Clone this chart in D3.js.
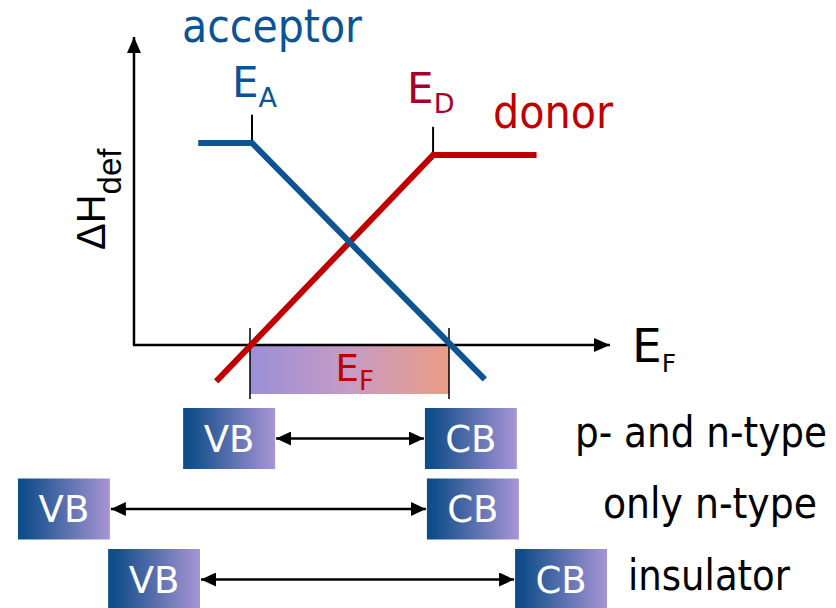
<!DOCTYPE html>
<html lang="en">

<head>
    <meta charset="UTF-8">
    <title>Defect formation enthalpy vs Fermi level</title>
    <script src="https://d3js.org/d3.v7.min.js"></script>
    <style>
        body { margin: 0; background: #fff; }
        text { font-family: "DejaVu Sans Condensed", "DejaVu Sans", Verdana, sans-serif; }
        text.wide { font-family: "DejaVu Sans", Verdana, sans-serif; }
    </style>
</head>

<body>
    <script>
        // data: energies in units of the p/n-type band gap (VB = 0, CB = 1), enthalpy in arbitrary units
        var acceptorLine = [[-0.26, 1.0], [0.01, 1.0], [1.18, -0.17]];
        var donorLine = [[-0.17, -0.18], [0.92, 0.94], [1.44, 0.94]];
        var levelNames = ["A", "D"];
        var levelEnergies = [0.01, 0.92];
        var levelTops = [1.14, 1.08];
        var fermiWindow = [0, 1];

        var rowLabels = ["p- and n-type", "only n-type", "insulator"];
        var vbEdges = [0.126, -0.704, -0.251];
        var cbEdges = [0.879, 0.889, 1.332];
        var bandWidth = 0.462;

        var width = 836, height = 608;

        var x = d3.scaleLinear().domain([0, 1]).range([250, 449]);
        var y = d3.scaleLinear().domain([0, 1]).range([345, 143]);
        var rowY = d3.scalePoint().domain(rowLabels).range([438.5, 579.5]);

        var svg = d3.select("body").append("svg")
            .attr("width", width)
            .attr("height", height);

        var defs = svg.append("defs");

        // arrow heads
        defs.append("marker")
            .attr("id", "axisHead")
            .attr("viewBox", "0 0 16 14")
            .attr("refX", 16).attr("refY", 7)
            .attr("markerWidth", 16).attr("markerHeight", 14)
            .attr("markerUnits", "userSpaceOnUse")
            .attr("orient", "auto-start-reverse")
            .append("path").attr("d", "M0,0L16,7L0,14Z").attr("fill", "#000");

        defs.append("marker")
            .attr("id", "rowHead")
            .attr("viewBox", "0 0 15 14")
            .attr("refX", 15).attr("refY", 7)
            .attr("markerWidth", 15).attr("markerHeight", 14)
            .attr("markerUnits", "userSpaceOnUse")
            .attr("orient", "auto-start-reverse")
            .append("path").attr("d", "M0,0L15,7L0,14Z").attr("fill", "#000");

        var bandGrad = defs.append("linearGradient").attr("id", "bandGrad");
        bandGrad.append("stop").attr("offset", "0%").attr("stop-color", "#0b4d8a");
        bandGrad.append("stop").attr("offset", "8%").attr("stop-color", "#124e8b");
        bandGrad.append("stop").attr("offset", "100%").attr("stop-color", "#a895d5");

        var fermiGrad = defs.append("linearGradient").attr("id", "fermiGrad");
        fermiGrad.append("stop").attr("offset", "0%").attr("stop-color", "#9b8fd8");
        fermiGrad.append("stop").attr("offset", "50%").attr("stop-color", "#c79bc4");
        fermiGrad.append("stop").attr("offset", "100%").attr("stop-color", "#ea9c85");

        // Fermi level window
        svg.append("rect")
            .attr("x", x(fermiWindow[0]))
            .attr("y", y(0))
            .attr("width", x(fermiWindow[1]) - x(fermiWindow[0]))
            .attr("height", 49)
            .attr("fill", "url(#fermiGrad)");

        svg.selectAll(".edge")
            .data(fermiWindow)
            .enter().append("line")
            .attr("class", "edge")
            .attr("x1", d => x(d)).attr("x2", d => x(d))
            .attr("y1", y(0) - 17).attr("y2", y(0) + 54)
            .attr("stroke", "#000").attr("stroke-width", 1.5);

        svg.append("text")
            .attr("class", "wide")
            .attr("x", x(0.43)).attr("y", 381)
            .attr("fill", "#c00000").attr("font-size", 37)
            .text("E")
            .append("tspan").attr("dy", 9).attr("font-size", 26).text("F");

        // axes
        svg.append("line")
            .attr("x1", x(-0.583)).attr("y1", y(0))
            .attr("x2", x(-0.583)).attr("y2", y(1.525))
            .attr("stroke", "#000").attr("stroke-width", 2.5)
            .attr("marker-end", "url(#axisHead)");

        svg.append("line")
            .attr("x1", x(-0.583) - 1).attr("y1", y(0))
            .attr("x2", x(1.809)).attr("y2", y(0))
            .attr("stroke", "#000").attr("stroke-width", 2.5)
            .attr("marker-end", "url(#axisHead)");

        svg.append("text")
            .attr("class", "wide")
            .attr("x", 632).attr("y", 362)
            .attr("fill", "#000").attr("font-size", 47)
            .text("E")
            .append("tspan").attr("dy", 10).attr("font-size", 25).text("F");

        svg.append("text")
            .attr("transform", "translate(105,250) rotate(-90)")
            .attr("fill", "#000")
            .style("font-family", "'Liberation Sans', Arial, sans-serif")
            .attr("font-size", 40)
            .text("\u0394H")
            .append("tspan").attr("dy", 16).attr("font-size", 33).text("def");

        // level ticks
        svg.selectAll(".tick")
            .data(levelEnergies)
            .enter().append("line")
            .attr("class", "tick")
            .attr("x1", d => x(d)).attr("x2", d => x(d))
            .attr("y1", (d, i) => y(levelTops[i]))
            .attr("y2", (d, i) => y(i === 0 ? acceptorLine[1][1] : donorLine[1][1]))
            .attr("stroke", "#000").attr("stroke-width", 2);

        // defect lines
        var line = d3.line().x(d => x(d[0])).y(d => y(d[1]));

        svg.append("path")
            .datum(donorLine)
            .attr("d", line)
            .attr("fill", "none")
            .attr("stroke", "#c00000")
            .attr("stroke-width", 6);

        svg.append("path")
            .datum(acceptorLine)
            .attr("d", line)
            .attr("fill", "none")
            .attr("stroke", "#0e5392")
            .attr("stroke-width", 6);

        // labels
        svg.append("text")
            .attr("x", 182).attr("y", 42)
            .attr("fill", "#0b5394").attr("font-size", 46)
            .attr("textLength", 180).attr("lengthAdjust", "spacingAndGlyphs")
            .text("acceptor");

        svg.append("text")
            .attr("x", 493).attr("y", 128)
            .attr("fill", "#c00000").attr("font-size", 46)
            .attr("textLength", 120).attr("lengthAdjust", "spacingAndGlyphs")
            .text("donor");

        var levelColors = ["#0b5394", "#a8002b"];
        var levelBase = [97, 103];
        var levelShift = [-20, -26];
        levelNames.forEach(function (n, i) {
            svg.append("text")
                .attr("class", "wide")
                .attr("x", x(levelEnergies[i]) + levelShift[i]).attr("y", levelBase[i])
                .attr("fill", levelColors[i]).attr("font-size", 42)
                .text("E")
                .append("tspan").attr("dy", 10).attr("font-size", 27).text(n);
        });

        // band alignment rows
        var rows = svg.selectAll(".row")
            .data(rowLabels)
            .enter().append("g")
            .attr("class", "row")
            .attr("transform", d => "translate(0," + rowY(d) + ")");

        rows.append("line")
            .attr("x1", (d, i) => x(vbEdges[i]) + 1)
            .attr("x2", (d, i) => x(cbEdges[i]) - 1)
            .attr("y1", 0).attr("y2", 0)
            .attr("stroke", "#000").attr("stroke-width", 2.5)
            .attr("marker-start", "url(#rowHead)")
            .attr("marker-end", "url(#rowHead)");

        rows.append("rect")
            .attr("x", (d, i) => x(vbEdges[i] - bandWidth))
            .attr("y", -30.5)
            .attr("width", x(bandWidth) - x(0))
            .attr("height", 61)
            .attr("fill", "url(#bandGrad)");

        rows.append("rect")
            .attr("x", (d, i) => x(cbEdges[i]))
            .attr("y", -30.5)
            .attr("width", x(bandWidth) - x(0))
            .attr("height", 61)
            .attr("fill", "url(#bandGrad)");

        rows.append("text")
            .attr("class", "wide")
            .attr("x", (d, i) => x(vbEdges[i] - bandWidth / 2))
            .attr("y", 13)
            .attr("text-anchor", "middle")
            .attr("fill", "#fff").attr("font-size", 37)
            .text("VB");

        rows.append("text")
            .attr("class", "wide")
            .attr("x", (d, i) => x(cbEdges[i] + bandWidth / 2))
            .attr("y", 13)
            .attr("text-anchor", "middle")
            .attr("fill", "#fff").attr("font-size", 37)
            .text("CB");

        var labelX = [575, 603, 628];
        var labelLen = [252, 214, 162];
        var labelDy = [8, 8.5, 10];
        rows.append("text")
            .attr("x", (d, i) => labelX[i])
            .attr("y", (d, i) => labelDy[i])
            .attr("fill", "#000").attr("font-size", 42)
            .attr("textLength", (d, i) => labelLen[i])
            .attr("lengthAdjust", "spacingAndGlyphs")
            .text(d => d);
    </script>
</body>

</html>
